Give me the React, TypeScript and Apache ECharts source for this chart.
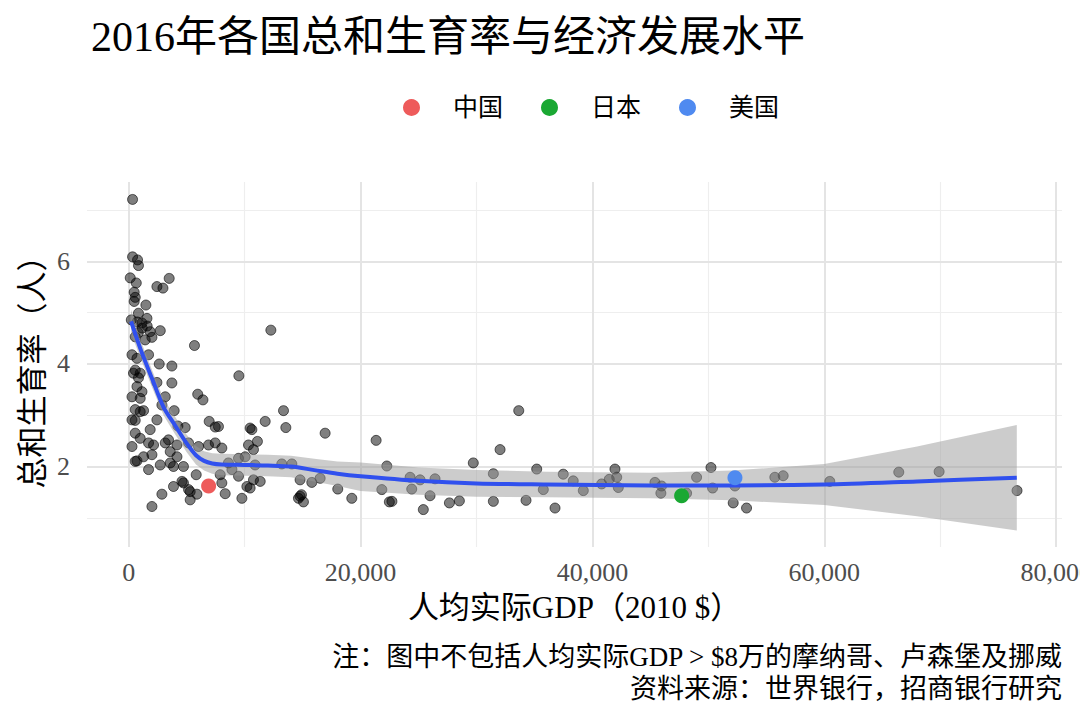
import React, { useEffect, useRef } from 'react';
import * as echarts from 'echarts';

// 人均实际GDP（2010 $）与总和生育率（人）
const gdp = [
  330, 330, 760, 840, 130, 650, 3490, 2430, 2950, 470, 560, 470, 1480, 12260, 2720, 840, 220, 1570, 1140, 730,
  1160, 1590, 820, 5670, 2000, 1420, 560, 1850, 280, 710, 1710, 2630, 3720, 560, 990, 840, 9500, 2430, 3720, 1140,
  990, 3150, 5950, 6400, 1280, 990, 3920, 2860, 560, 2430, 6940, 4240, 7460, 10470, 11770, 7740, 4870, 1850, 990, 1710,
  3430, 4160, 5160, 6020, 6880, 7460, 8030, 10330, 10760, 710, 1280, 2000, 2720, 1710, 3580, 3860, 4720, 5820, 3860, 4720,
  5300, 5880, 5300, 2860, 2000, 8030, 8320, 7890, 9760, 10190, 10760, 11340, 8900, 9470, 10040, 3580, 4160, 9470, 8600, 4590,
  5160, 2140, 3150, 410, 710, 280, 560, 280, 560, 280, 560,
  10620, 11100, 13350, 13550, 16940, 10900, 10470, 13200, 14070, 14780, 14640, 15070, 14780, 14900, 15790, 16510, 18030, 19240,
  21340, 22260, 21830, 22480, 22700, 24270, 25130, 24410, 26420, 25990, 25410, 27660, 28520, 29720, 31450, 32030, 31450, 33640,
  35190, 34270, 35760, 37480, 38340, 39210, 36770, 40790, 41450, 41940, 42090, 42230, 45390, 45960, 45900, 48120, 48980, 50220,
  50360, 52140, 52290, 53290, 55730, 56450, 60470, 66420, 69900, 76620,
];
const tfr = [
  7.21, 6.09, 6.03, 5.92, 5.68, 5.58, 5.67, 5.51, 5.48, 5.40, 5.30, 5.22, 5.15, 4.66, 4.65, 4.99, 4.86, 4.89, 4.80, 4.82,
  4.70, 4.74, 4.61, 4.36, 4.52, 4.47, 4.53, 4.63, 4.18, 4.11, 4.18, 4.00, 3.96, 3.88, 3.82, 3.73, 3.77, 3.64, 3.63, 3.46,
  3.33, 3.36, 3.41, 3.30, 3.09, 3.07, 3.09, 3.20, 2.90, 2.91, 2.88, 2.79, 2.77, 2.75, 2.88, 2.78, 2.76, 2.72, 2.55, 2.46,
  2.52, 2.42, 2.46, 2.39, 2.42, 2.46, 2.36, 2.42, 2.33, 2.11, 2.19, 2.23, 2.03, 1.94, 2.07, 2.00, 2.00, 1.84, 1.61, 1.68,
  1.51, 1.46, 1.35, 1.46, 1.22, 1.68, 1.47, 1.84, 1.38, 1.61, 1.74, 1.71, 1.94, 1.81, 2.19, 2.29, 2.19, 2.16, 2.07, 1.71,
  1.55, 2.42, 2.46, 3.82, 3.56, 3.36, 3.11, 2.91, 2.65, 2.39, 2.10,
  2.72, 2.49, 3.09, 2.76, 2.65, 2.03, 1.58, 2.05, 2.05, 1.74, 1.38, 1.31, 1.42, 1.45, 1.69, 1.77, 1.56, 1.38,
  2.51, 2.01, 1.55, 1.31, 1.32, 1.79, 1.74, 1.56, 1.76, 1.43, 1.16, 1.29, 1.33, 2.07, 1.86, 2.33, 1.32, 3.09,
  1.95, 1.34, 1.55, 1.85, 1.72, 1.53, 1.19, 1.66, 1.75, 1.95, 1.79, 1.59, 1.69, 1.62, 1.48, 1.48, 1.79, 1.98,
  1.58, 1.29, 1.62, 1.19, 1.79, 1.82, 1.71, 1.89, 1.90, 1.53,
];

// 平滑拟合线及置信区间
const fitX = [200, 1000, 2000, 3000, 4000, 5000, 5800, 6500, 7200, 8000, 10000, 12000, 14000, 16000, 18000, 20000, 25000, 30000, 36000, 45000, 52000, 60000, 68000, 76600];
const fitY = [4.83, 4.30, 3.72, 3.16, 2.80, 2.45, 2.22, 2.11, 2.06, 2.04, 2.03, 2.02, 2.00, 1.93, 1.86, 1.81, 1.72, 1.67, 1.65, 1.63, 1.63, 1.65, 1.71, 1.78];
const fitLo = [4.60, 4.12, 3.55, 3.00, 2.63, 2.28, 2.04, 1.92, 1.86, 1.83, 1.82, 1.81, 1.79, 1.71, 1.62, 1.52, 1.45, 1.41, 1.40, 1.38, 1.34, 1.25, 1.03, 0.75];
const fitHi = [5.06, 4.48, 3.89, 3.32, 2.97, 2.62, 2.40, 2.30, 2.26, 2.25, 2.24, 2.23, 2.21, 2.15, 2.10, 2.08, 1.98, 1.93, 1.90, 1.88, 1.92, 2.05, 2.39, 2.81];

// 重点国家
const highlightNames = ['中国', '日本', '美国'];
const highlightGdp = [6890, 47690, 52290];
const highlightTfr = [1.62, 1.43, 1.78];
const highlightColors = ['#EE5B5B', '#1AA833', '#4F8AF0'];

// 刻度
const xTicks = [0, 20000, 40000, 60000, 80000];
const xMinor = [10000, 30000, 50000, 70000];
const yTicks = [2, 4, 6];
const yMinor = [1, 3, 5, 7];

const FONT = "'Liberation Serif', 'Noto Sans CJK SC', serif";

export default function App() {
  const ref = useRef<HTMLDivElement>(null);
  useEffect(() => {
    if (!ref.current) return;
    const chart = echarts.init(ref.current, undefined, { renderer: 'svg' });
    const major = { color: '#e4e4e4', width: 2, type: 'solid' as const };
    const minor = { color: '#eeeeee', width: 1.2, type: 'solid' as const };
    const gridLines = [
      ...xMinor.map((v) => ({ xAxis: v, lineStyle: minor })),
      ...yMinor.map((v) => ({ yAxis: v, lineStyle: minor })),
      ...xTicks.map((v) => ({ xAxis: v, lineStyle: major })),
      ...yTicks.map((v) => ({ yAxis: v, lineStyle: major })),
    ];
    const option: any = {
      animation: false,
      backgroundColor: '#ffffff',
      title: {
        text: '2016年各国总和生育率与经济发展水平',
        left: 86,
        top: 11,
        textStyle: { fontFamily: FONT, fontSize: 42, fontWeight: 'normal', color: '#000' },
      },
      legend: {
        data: highlightNames,
        left: 403,
        top: 95,
        padding: 0,
        icon: 'circle',
        itemWidth: 17,
        itemHeight: 17,
        itemGap: 38,
        selectedMode: false,
        textStyle: { fontFamily: FONT, fontSize: 25, color: '#000', padding: [0, 0, 0, 28] },
      },
      grid: { left: 87, right: 18, top: 182, bottom: 173, containLabel: false, outerBoundsMode: 'none' },
      xAxis: {
        type: 'value',
        min: -3600,
        max: 80500,
        name: '人均实际GDP（2010 $）',
        nameLocation: 'middle',
        nameGap: 45,
        nameMoveOverlap: false,
        nameTextStyle: { fontFamily: FONT, fontSize: 31, color: '#000' },
        axisLine: { show: false },
        axisTick: { show: false, customValues: xTicks },
        splitLine: { show: false },
        axisLabel: {
          customValues: xTicks,
          margin: 12,
          fontFamily: FONT,
          fontSize: 26,
          color: '#4d4d4d',
          formatter: (v: number) => v.toLocaleString('en-US'),
        },
      },
      yAxis: {
        type: 'value',
        min: 0.43,
        max: 7.55,
        name: '总和生育率（人）',
        nameLocation: 'middle',
        nameRotate: 90,
        nameGap: 39,
        nameMoveOverlap: false,
        nameTextStyle: { fontFamily: FONT, fontSize: 31, color: '#000' },
        axisLine: { show: false },
        axisTick: { show: false, customValues: yTicks },
        splitLine: { show: false },
        axisLabel: {
          customValues: yTicks,
          margin: 17,
          fontFamily: FONT,
          fontSize: 26,
          color: '#4d4d4d',
        },
      },
      graphic: [
        {
          type: 'text',
          x: 1062,
          y: 657,
          style: {
            text: '注：图中不包括人均实际GDP > $8万的摩纳哥、卢森堡及挪威',
            align: 'right',
            verticalAlign: 'middle',
            fontFamily: FONT,
            fontSize: 27,
            fill: '#000',
          },
        },
        {
          type: 'text',
          x: 1062,
          y: 689,
          style: {
            text: '资料来源：世界银行，招商银行研究',
            align: 'right',
            verticalAlign: 'middle',
            fontFamily: FONT,
            fontSize: 27,
            fill: '#000',
          },
        },
      ],
      series: [
        {
          name: 'all',
          type: 'scatter',
          z: 2,
          symbolSize: 10,
          itemStyle: { color: 'rgba(0,0,0,0.5)', borderColor: 'rgba(0,0,0,0.6)', borderWidth: 1, opacity: 1 },
          data: gdp.map((x, i) => [x, tfr[i]]),
          markLine: {
            silent: true,
            z: 0,
            symbol: ['none', 'none'],
            label: { show: false },
            emphasis: { disabled: true },
            data: gridLines,
          },
        },
        {
          name: 'ci',
          type: 'custom',
          z: 3,
          silent: true,
          clip: true,
          data: [0],
          renderItem: (_params: any, api: any) => {
            const pts: number[][] = [];
            for (let i = 0; i < fitX.length; i++) pts.push(api.coord([fitX[i], fitHi[i]]));
            for (let i = fitX.length - 1; i >= 0; i--) pts.push(api.coord([fitX[i], fitLo[i]]));
            return {
              type: 'polygon',
              shape: { points: pts },
              style: { fill: 'rgba(153,153,153,0.5)' },
            };
          },
        },
        {
          name: 'fit',
          type: 'line',
          z: 4,
          symbol: 'none',
          smooth: 0.3,
          lineStyle: { color: '#3050EE', width: 4 },
          data: fitX.map((x, i) => [x, fitY[i]]),
        },
        ...highlightNames.map((n, i) => ({
          name: n,
          type: 'scatter',
          z: 5,
          symbolSize: 15,
          itemStyle: { color: highlightColors[i], opacity: 1 },
          data: [[highlightGdp[i], highlightTfr[i]]],
        })),
      ],
    };
    chart.setOption(option);
    return () => chart.dispose();
  }, []);
  return (
    <div
      ref={ref}
      style={{ position: 'fixed', left: 0, top: 0, width: 1080, height: 720, background: '#fff' }}
    />
  );
}
